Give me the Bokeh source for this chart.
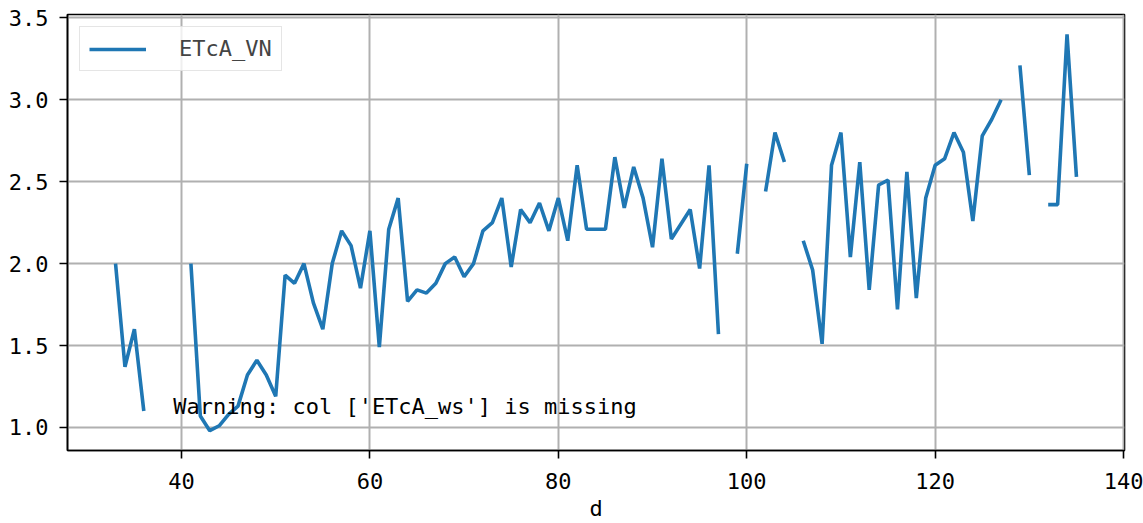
import numpy as np
from bokeh.plotting import figure
from bokeh.models import Range1d, FixedTicker, Label, NumeralTickFormatter
from bokeh.embed import file_html
from bokeh.resources import INLINE

nan = float("nan")

days = list(range(33, 136))
etca_vn = [
    2.00, 1.37, 1.60, 1.10, nan, nan, nan, nan,            # 33-40
    2.00, 1.07, 0.98, 1.01, 1.08, 1.13, 1.32, 1.41, 1.32, 1.19,  # 41-50
    1.93, 1.88, 2.00, 1.76, 1.60, 2.00, 2.20, 2.11, 1.85, 2.20,  # 51-60
    1.49, 2.21, 2.40, 1.77, 1.84, 1.82, 1.88, 2.00, 2.04, 1.92,  # 61-70
    2.00, 2.20, 2.25, 2.40, 1.98, 2.33, 2.25, 2.37, 2.20, 2.40,  # 71-80
    2.14, 2.60, 2.21, 2.21, 2.21, 2.65, 2.34, 2.59, 2.40, 2.10,  # 81-90
    2.64, 2.15, 2.24, 2.33, 1.97, 2.60, 1.57, nan, 2.06, 2.61,   # 91-100
    nan, 2.44, 2.80, 2.62, nan, 2.14, 1.96, 1.51, 2.60, 2.80,    # 101-110
    2.04, 2.62, 1.84, 2.48, 2.51, 1.72, 2.56, 1.79, 2.40, 2.60,  # 111-120
    2.64, 2.80, 2.68, 2.26, 2.78, 2.88, 3.00, nan, 3.21, 2.54,   # 121-130
    nan, 2.36, 2.36, 3.40, 2.53,                                 # 131-135
]
assert len(days) == len(etca_vn)

x_ticks = [40, 60, 80, 100, 120, 140]
y_ticks = [1.0, 1.5, 2.0, 2.5, 3.0, 3.5]
series_label = "ETcA_VN"
x_label = "d"
warning_text = "Warning: col ['ETcA_ws'] is missing"

FONT = "DejaVu Sans Mono"
FSIZE = "22px"

# matplotlib-like 5% margins
xmin, xmax = min(days), max(days)
ymin, ymax = np.nanmin(etca_vn), np.nanmax(etca_vn)
xpad = 0.05 * (xmax - xmin)
ypad = 0.05 * (ymax - ymin)
xr = Range1d(xmin - xpad, xmax + xpad)
yr = Range1d(ymin - ypad, ymax + ypad)

p = figure(width=1143, height=523, x_range=xr, y_range=yr,
           output_backend="svg", toolbar_location=None,
           min_border_left=67, min_border_right=19,
           min_border_top=14, min_border_bottom=73)

p.line(days, etca_vn, line_color="#1f77b4", line_width=3.6,
       legend_label=series_label)

# axes
for ax in (p.xaxis[0], p.yaxis[0]):
    ax.major_label_text_font = FONT
    ax.major_label_text_font_size = FSIZE
    ax.major_label_text_line_height = 1.0
    ax.major_label_text_color = "black"
    ax.axis_line_color = "black"
    ax.axis_line_width = 1.6
    ax.major_tick_line_color = "black"
    ax.major_tick_line_width = 1.6
    ax.major_tick_out = 8
    ax.major_tick_in = 0
    ax.minor_tick_out = 0
    ax.minor_tick_in = 0

p.xaxis.major_label_standoff = 14
p.yaxis.major_label_standoff = 11
p.xaxis.ticker = FixedTicker(ticks=x_ticks)
p.yaxis.ticker = FixedTicker(ticks=y_ticks)
p.yaxis.formatter = NumeralTickFormatter(format="0.0")
p.xaxis.axis_label = x_label
p.xaxis.axis_label_text_font = FONT
p.xaxis.axis_label_text_font_size = FSIZE
p.xaxis.axis_label_text_line_height = 1.0
p.xaxis.axis_label_text_font_style = "normal"
p.xaxis.axis_label_text_color = "black"
p.xaxis.axis_label_standoff = 4

p.grid.grid_line_color = "#b0b0b0"
p.grid.grid_line_width = 2
p.outline_line_color = "black"
p.outline_line_width = 1.6
p.outline_line_alpha = 1.0

# legend
lg = p.legend[0]
lg.location = "top_left"
lg.margin = 12
lg.padding = 9
lg.spacing = 0
lg.glyph_width = 57
lg.glyph_height = 24
lg.label_height = 24
lg.label_standoff = 33
lg.label_text_font = FONT
lg.label_text_font_size = FSIZE
lg.border_line_color = "#cccccc"
lg.border_line_width = 1.5
lg.background_fill_color = "white"
lg.background_fill_alpha = 0.8

# warning text at axes fraction (0.1, 0.1)
warn = Label(x=xr.start + 0.1 * (xr.end - xr.start),
             y=yr.start + 0.1 * (yr.end - yr.start),
             text=warning_text, text_font=FONT, text_font_size=FSIZE,
             text_color="black", text_baseline="alphabetic", text_align="left")
p.add_layout(warn)

open("out.html", "w").write(file_html(p, INLINE))
